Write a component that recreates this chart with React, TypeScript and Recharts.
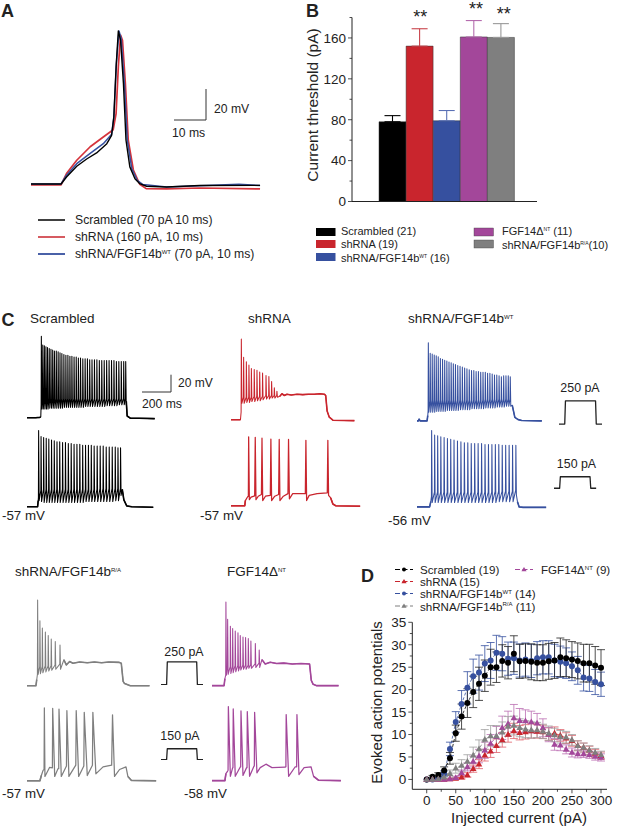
import { BarChart, Bar, ComposedChart, ErrorBar, Line, LineChart, XAxis, YAxis } from "recharts";

type Pt = [number, number];
type Spike = [number, number, number, number]; // time, foot, peak, trough

const FONT = "'Liberation Sans', Arial, sans-serif";
const INK = "#222";
const BLACK = "#000000";
const RED = "#c9252d";
const BLUE = "#36509f";
const GREY = "#7f7f7f";
const PURPLE = "#a3479a";

// panel A, single action potentials (ms, mV)
const apScrambled: Pt[] = [[0,-57],[9.4,-57],[11.1,-52.5],[14.3,-45.6],[17.4,-40.9],[20.5,-37],[23.7,-31],[25.2,-25.6],[25.9,-13.8],[26.6,18.5],[27.3,41.7],[28,35.7],[28.9,7.7],[29.7,-28.8],[30.9,-46],[32.5,-53.6],[34,-56.8],[36.1,-58.5],[42.4,-59],[52.8,-58],[71.6,-57.9]];
const apShrna: Pt[] = [[0,-57.6],[9.4,-57.6],[11.1,-50.3],[14.3,-41.7],[18.5,-33],[22.6,-26.7],[25.7,-22],[26.6,-11.6],[27.3,18.5],[28,39],[28.6,35.7],[29.5,7.7],[30.4,-28.8],[32,-48],[34,-57.2],[36,-60],[42.4,-60.2],[52.8,-59.6],[71.6,-60.2]];
const apRescue: Pt[] = [[0,-57],[9.4,-57],[11.1,-51.4],[14.3,-43.9],[18.4,-37.4],[22.6,-31],[25.2,-25],[25.9,-13.8],[26.7,20.6],[27.5,41.7],[28.2,36.8],[29.2,7.7],[30.1,-28.8],[31.5,-47],[33.2,-54.6],[35,-57.4],[42.4,-59],[65,-57.2],[71.6,-58]];

// panel B
const thresholdGroups = ["Scrambled", "shRNA", "shRNA/FGF14bWT", "FGF14dNT", "shRNA/FGF14bRA"];
const thresholdValues = [78, 152, 79, 161, 160.5];
const thresholdErrors = [6, 17, 10, 16, 13.5];
const thresholdColors = [BLACK, RED, BLUE, PURPLE, GREY];
const thresholdErrorColors = [BLACK, "#c9444b", "#5a70b5", "#b56cae", "#999999"];
const thresholdTicks = [0, 20, 40, 60, 80, 100, 120, 140, 160, 180];

// panel C, firing traces: time in ms from the start of the sweep, voltage in mV
const scrambledHighHead: Pt[] = [[0,-57],[60,-57],[90,-56.5],[96,-56]];
const scrambledHighSpikes: Spike[] = [
  [100,-42,37,-47],[110,-36,27,-47],[121,-35,26,-47],[132,-35,25,-47],[143,-35,24,-47],[155,-35,23,-46],[167,-35,22,-46],[179,-35,21,-46],
  [191,-35,20,-46],[204,-35,20,-46],[217,-35,19,-46],[230,-35,18,-46],[243,-35,17,-46],[257,-35,16,-45],[271,-35,15,-45],[285,-35,15,-45],
  [299,-35,14,-45],[313,-35,14,-45],[328,-35,13,-45],[343,-35,13,-45],[358,-35,12,-45],[373,-35,12,-45],[389,-35,11,-45],[405,-35,11,-44],
  [421,-35,11,-44],[437,-35,10,-44],[453,-35,10,-44],[470,-35,10,-44],[487,-35,10,-44],[504,-35,9,-44],[521,-35,9,-44],[538,-35,9,-44],
  [555,-35,9,-43],[572,-35,9,-43],[589,-35,9,-43],[606,-35,9,-43],[623,-35,8,-43],[640,-35,8,-42],[657,-35,8,-42],[674,-35,8,-42],[688,-35,8,-42],
];
const scrambledHighTail: Pt[] = [[692,-38],[698,-55],[720,-57.5],[780,-57.6],[890,-58]];

const scrambledLowHead: Pt[] = [[0,-57],[74,-57],[78,-50]];
const scrambledLowSpikes: Spike[] = [
  [81,-46,31,-50],[98,-38,24,-51],[116,-37,23,-52],[134,-37,22,-52],[152,-37,21,-52],[171,-37,20,-52],[190,-37,19,-52],[209,-37,18,-52],
  [228,-37,18,-52],[248,-37,17,-52],[268,-37,17,-52],[288,-37,16,-52],[308,-37,16,-52],[328,-37,15,-52],[348,-37,15,-52],[368,-37,15,-52],
  [388,-37,14,-52],[408,-37,14,-51],[428,-37,14,-51],[448,-37,14,-51],[468,-37,13,-51],[489,-37,13,-51],[510,-36,13,-51],[531,-36,13,-51],
  [552,-36,12,-51],[573,-36,12,-51],[594,-36,12,-51],[615,-36,12,-50],[634,-36,11,-50],[652,-36,11,-44],
];
const scrambledLowTail: Pt[] = [[664,-37],[675,-49],[695,-56],[730,-57],[880,-57.5]];

const shrnaHighHead: Pt[] = [[0,-57],[66,-57]];
const shrnaHighSpikes: Spike[] = [
  [72,-48,36,-38],[88,-31,15,-38],[107,-31,10,-37],[125,-31,6,-37],[142,-31,2,-36],[162,-30,1,-36],[181,-30,0,-35],[200,-30,-2,-35],
  [220,-30,-3,-34],[244,-29,-6,-33],[264,-29,-7,-33],[283,-29,-13,-32],[302,-29,-20,-32],[320,-29,-24,-31],
];
const shrnaHighTail: Pt[] = [[340,-30],[355,-27],[372,-29],[390,-27.5],[420,-28.5],[460,-27.5],[500,-28],[540,-27.5],[580,-27.5],[620,-27],[650,-27.5],[660,-29],[670,-47],[685,-54],[710,-57.5],[860,-58]];

const shrnaLow: Pt[] = [
  [0,-57],[96,-57],[100,-51],[116,-46.6],[121,-46],[123,22.5],[128,-50],[140,-47],[165,-45.5],[169,22],[174,-50],[190,-46],[212,-44],
  [216,21],[221,-51],[240,-46],[274,-45],[278,20],[283,-51],[305,-46],[332,-44],[336,19.5],[341,-51],[365,-46],[397,-43],[401,19.5],
  [407,-49],[430,-43],[470,-43],[518,-43],[522,18.5],[527,-51],[545,-45],[600,-43],[671,-42],[675,18.5],[680,-45],[695,-48],[710,-55],[730,-57],[900,-57.5],
];

const rescueHighHead: Pt[] = [[0,-56],[10,-56],[15,-54],[22,-56],[70,-56],[75,-50]];
const rescueHighSpikes: Spike[] = [
  [79,-44,34,-46],[92,-33,22,-46],[106,-32,21,-46],[120,-32,20,-46],[134,-32,19,-45],[148,-32,18,-45],[163,-32,16,-45],[178,-32,15,-45],
  [193,-32,14,-45],[208,-32,13,-44],[223,-32,12,-44],[238,-32,11,-44],[253,-32,10,-44],[268,-32,9,-44],[284,-32,8,-44],[300,-32,7,-43],
  [316,-32,6,-43],[332,-32,5,-43],[348,-32,4,-43],[364,-32,3,-43],[380,-32,2,-42],[396,-32,2,-42],[412,-32,1,-42],[428,-32,1,-42],
  [444,-32,0,-42],[460,-32,0,-42],[476,-31,0,-41],[492,-31,-1,-41],[508,-31,-1,-41],[524,-31,-2,-41],[540,-31,-3,-41],[556,-31,-3,-40],
  [572,-31,-4,-40],[588,-31,-5,-40],[604,-31,-4,-40],[620,-31,-4,-39],[636,-31,-4,-39],[650,-31,-5,-39],
];
const rescueHighTail: Pt[] = [[664,-38],[682,-52],[705,-54.5],[730,-55.5],[870,-56]];

const rescueLowHead: Pt[] = [[0,-56],[88,-56],[96,-50]];
const rescueLowSpikes: Spike[] = [
  [102,-44,32,-51],[123,-39,27,-51],[144,-39,26,-51],[166,-39,25,-51],[189,-39,24,-51],[212,-39,23,-51],[235,-39,22,-51],[258,-39,21,-51],
  [282,-39,20,-51],[306,-39,19,-51],[330,-39,18,-51],[354,-39,18,-51],[378,-39,17,-51],[402,-39,17,-51],[426,-39,17,-51],[450,-39,17,-51],
  [474,-39,16,-51],[498,-39,16,-51],[522,-39,16,-51],[546,-38,16,-51],[570,-38,16,-50],[594,-38,15,-50],[618,-38,15,-50],[642,-38,15,-50],
  [666,-38,15,-50],[689,-37,15,-42],
];
const rescueLowTail: Pt[] = [[700,-50],[712,-56],[740,-56.5],[900,-56.5]];

const mutantHighHead: Pt[] = [[0,-57],[62,-57],[68,-50]];
const mutantHighSpikes: Spike[] = [
  [74,-44,42,-44],[90,-35,18,-43],[107,-35,9.5,-42],[128,-34,5,-41],[148,-34,1,-40],[169,-34,-3,-39],[197,-33,-6,-38],[230,-32,-10,-38],
];
const mutantHighTail: Pt[] = [[257,-27],[274,-33],[297,-29],[320,-31],[367,-29.5],[420,-30.5],[470,-29.5],[520,-30.5],[570,-29.5],[640,-30],[657,-31],[670,-52],[680,-54.5],[720,-57],[854,-57]];

const mutantLow: Pt[] = [
  [0,-57],[90,-57],[100,-51],[112,-45],[119,-44],[121,27],[125,-52],[157,-41.6],[177,-42],[179,26.5],[193,-52],[216,-43],[221,-43],[223,25.7],
  [239,-52],[275,-40],[278,23.8],[292,-52],[340,-39],[343,23.8],[360,-52],[396,-40],[399,22],[420,-51],[456,-39],[459,22],[480,-49],[530,-41],
  [590,-39],[596,19],[610,-52],[645,-44],[690,-41],[703,-52],[727,-56.5],[900,-57],
];

const deltaHighHead: Pt[] = [[0,-58],[84,-58],[90,-50]];
const deltaHighSpikes: Spike[] = [
  [97,-46,38.5,-46],[109,-36,18.5,-45],[128,-36,10.5,-44],[144,-36,8,-43],[162,-35,5,-42],[181,-35,3,-41],[197,-35,-0.3,-40],[216,-34.5,-2,-39],
  [234,-34.5,-2.6,-39],[253,-34.5,-3.8,-38],[271,-34,-6.5,-38],[302,-33,-9.5,-37],[329,-32,-17,-37],
];
const deltaHighTail: Pt[] = [[348,-28],[371,-33],[406,-31],[450,-32.5],[500,-32],[560,-33],[620,-32.5],[680,-33],[692,-52],[705,-56.5],[730,-58],[882,-58]];

const deltaLow: Pt[] = [
  [0,-58],[90,-58],[97,-50],[109,-47],[112,-46],[114,27.4],[128,-53],[144,-43],[146,-43],[148,24.7],[162,-53],[198,-42],[200,-42],[202,22.4],
  [216,-52],[241,-43],[244,-43],[246,21.6],[262,-53],[293,-41],[295,-41],[297,20.8],[313,-49],[336,-43],[376,-39],[418,-43],[510,-42.5],
  [515,-42],[517,18.2],[534,-53],[580,-42],[590,-42],[592,18.2],[606,-51],[642,-43],[690,-42],[708,-53],[742,-57.5],[898,-58],
];

// stimulus steps (ms, pA)
const stepHigh: Pt[] = [[0,0],[40,0],[45,250],[255,250],[260,0],[300,0]];
const stepLow: Pt[] = [[0,0],[40,0],[45,150],[255,150],[260,0],[300,0]];

// panel D
const injected = [0,10,20,30,40,50,60,70,80,90,100,110,120,130,140,150,160,170,180,190,200,210,220,230,240,250,260,270,280,290,300];
const scrambledAp = [0,0.6,1,2,4.7,10.3,14,17,19.5,21.3,23.1,25,25,26.4,26,28,26.3,26.4,26.2,26,26,26.3,26.5,27.2,27,26.7,26.4,25.9,25.9,25.4,24.9];
const scrambledErr = [0,0.3,0.5,0.8,1.3,1.8,2.8,3.2,3.5,3.7,3.5,4,3.4,3.6,3.6,4,3.8,3.8,4,4,4,4,4,4.3,4.1,4,4,4.2,4.2,4.2,4];
const rescueAp = [0,0,0.3,1.3,6.8,12.8,16.8,20.4,23,23.8,25.8,26.5,28.2,28,26.9,27,26.5,26.7,26.4,27,27.2,27.2,26.5,26.2,25.9,25.2,24.3,22.7,22.5,21.7,21.2];
const rescueErr = [0,0,0.3,0.6,1.5,2.3,3,3.6,3.8,3.9,4,4,3.9,3.8,3.7,3.6,3.7,3.7,3.7,3.7,3.7,3.7,3.6,3.5,3.4,3.2,3.1,3,2.9,2.8,2.7];
const shrnaAp = [0,0,0,0,0.1,0.2,0.5,1,2.4,3.4,5.4,6.3,7.5,8.8,10,10.8,10.4,10.6,10.8,10.7,10.6,10.1,10.3,9.8,9.2,8.6,7.5,7.1,6.5,5.8,5.3];
const shrnaErr = [0,0,0,0,0.1,0.2,0.4,0.5,0.8,1,1.3,1.4,1.5,1.6,1.7,1.7,1.6,1.6,1.6,1.5,1.5,1.4,1.4,1.3,1.2,1.2,1.1,1,0.9,0.9,0.8];
const mutantAp = [0,0,0.1,0.5,1.3,2.5,3.1,4,5.4,6.8,8.9,9.7,9.7,10.5,11.8,12,11.5,11.2,11,11,10.7,10.3,9.9,9.5,9.4,8.8,7.5,7.1,6.5,6,5.5];
const mutantErr = [0,0,0.2,0.4,0.8,1.1,1.3,1.5,1.8,2,2.2,2.3,2.3,2.3,2.2,2.1,2,1.9,1.8,1.7,1.6,1.6,1.5,1.4,1.3,1.2,1.1,1,1,0.9,0.8];
const deltaAp = [0,0,0,0,0.1,0.4,1.5,2.8,4,5.2,6.5,8,9.5,11.5,12.4,13.7,13.1,13,12.8,12.5,11.5,10,7.8,7.6,6.7,6,5.7,5.7,5.5,5.1,4.9];
const deltaErr = [0,0,0,0,0.1,0.3,0.6,0.9,1.2,1.5,1.8,2,2.3,2.6,2.8,3,2.7,2.5,2.4,2.2,2,1.6,1.3,1.2,1,1,0.9,0.8,0.8,0.8,0.8];
const injectedTicks = [0, 25, 50, 75, 100, 125, 150, 175, 200, 225, 250, 275, 300];
const apTicks = [0, 2.5, 5, 7.5, 10, 12.5, 15, 17.5, 20, 22.5, 25, 27.5, 30, 32.5, 35];

const thresholdRows = thresholdGroups.map((group, i) => ({
  group,
  [`v${i}`]: thresholdValues[i],
  [`e${i}`]: [0, thresholdErrors[i]],
}));

const curveRows = injected.map((x, i) => ({
  x,
  scrambled: scrambledAp[i], scrambledE: scrambledErr[i],
  rescue: rescueAp[i], rescueE: rescueErr[i],
  shrna: shrnaAp[i], shrnaE: shrnaErr[i],
  mutant: mutantAp[i], mutantE: mutantErr[i],
  delta: deltaAp[i], deltaE: deltaErr[i],
}));

const toRows = (pts: Pt[]) => pts.map(([t, v]) => ({ t, v }));

// each spike adds its foot, peak and trough to the sweep
const train = (head: Pt[], spikes: Spike[], tail: Pt[]): Pt[] => [
  ...head,
  ...spikes.flatMap(([t, foot, peak, trough]): Pt[] => [[t - 1.5, foot], [t, peak], [t + 3.5, trough]]),
  ...tail,
];

function Traces({ left, top, width, height, xDomain, yDomain, series }: any) {
  return (
    <div style={{ position: "absolute", left, top }}>
      <LineChart width={width} height={height} margin={{ top: 0, right: 0, bottom: 0, left: 0 }}>
        <XAxis hide type="number" dataKey="t" domain={xDomain} allowDataOverflow />
        <YAxis hide type="number" domain={yDomain} allowDataOverflow />
        {series.map((s: any, i: number) => (
          <Line key={i} data={toRows(s.pts)} dataKey="v" stroke={s.color} strokeWidth={s.width ?? 1.2} dot={false} type="linear" isAnimationActive={false} strokeLinejoin="round" />
        ))}
      </LineChart>
    </div>
  );
}

// 200 ms = 28.7 px and 20 mV = 17.3 px in the sweeps of panel C
// thick: the resting and plateau stretches, which are heavier than the spikes
function Sweep({ left, base, rest, pts, color, thick = [], width = 1.05 }: any) {
  const msPx = 0.1435;
  const mvPx = 0.867;
  const top = base - (50 - rest) * mvPx;
  const series = [{ pts, color, width }, ...thick.map((p: Pt[]) => ({ pts: p, color, width: 1.6 }))];
  return (
    <Traces left={left} top={top} width={950 * msPx} height={125 * mvPx} xDomain={[0, 950]} yDomain={[-75, 50]} series={series} />
  );
}

function Step({ left, top, width, height, pts, max }: any) {
  return (
    <Traces left={left} top={top} width={width} height={height} xDomain={[0, 300]} yDomain={[-10, max + 10]}
      series={[{ pts, color: "#222", width: 1.3 }]} />
  );
}

const yTick = (majorEvery: number, size: number, minorLen: number, majorLen: number) => (props: any) => {
  const { x, y, payload } = props;
  const major = payload.value % majorEvery === 0;
  return (
    <g>
      <line x1={x - (major ? majorLen : minorLen)} x2={x} y1={y} y2={y} stroke={INK} strokeWidth={0.8} />
      {major && <text x={x - majorLen - 2} y={y + size * 0.36} textAnchor="end" fontSize={size} fontFamily={FONT} fill={INK}>{payload.value}</text>}
    </g>
  );
};

const xTick = (props: any) => {
  const { x, y, payload } = props;
  const major = payload.value % 50 === 0;
  return (
    <g>
      <line x1={x} x2={x} y1={y} y2={y + (major ? 4 : 2.5)} stroke={INK} strokeWidth={0.8} />
      {major && <text x={x} y={y + 16} textAnchor="middle" fontSize={13.5} fontFamily={FONT} fill={INK}>{payload.value}</text>}
    </g>
  );
};

const triangleDot = (color: string) => (props: any) => {
  const { cx, cy, index } = props;
  return <path key={index} d={`M${cx} ${cy - 3.5}L${cx + 3.3} ${cy + 2.3}L${cx - 3.3} ${cy + 2.3}Z`} fill={color} stroke="none" />;
};

function T({ x, y, size = 12, anchor, bold, rotate, children }: any) {
  return (
    <text x={x} y={y} fontSize={size} fontFamily={FONT} fontWeight={bold ? 700 : 400} textAnchor={anchor} fill={INK}
      transform={rotate ? `rotate(${rotate} ${x} ${y})` : undefined}>
      {children}
    </text>
  );
}

function Sup({ text, after, size = 6 }: any) {
  return (
    <>
      <tspan dy={-4.5} fontSize={size}>{text}</tspan>
      {after ? <tspan dy={4.5}>{after}</tspan> : null}
    </>
  );
}

function CurveKey({ x, y, color, triangle }: any) {
  return (
    <g>
      <line x1={x} x2={x + 18} y1={y} y2={y} stroke={color} strokeWidth={1} strokeDasharray="5 2.5" />
      {triangle
        ? <path d={`M${x + 9} ${y - 2.6}L${x + 11.6} ${y + 1.8}L${x + 6.4} ${y + 1.8}Z`} fill={color} />
        : <circle cx={x + 9} cy={y} r={2} fill={color} />}
    </g>
  );
}

function Annotations() {
  return (
    <svg width={617} height={828} style={{ position: "absolute", left: 0, top: 0, pointerEvents: "none" }}>
      <T x={1} y={17.3} size={18} bold>A</T>
      <T x={306} y={17.3} size={18} bold>B</T>
      <T x={1.5} y={326} size={18} bold>C</T>
      <T x={361} y={581.7} size={18} bold>D</T>

      <polyline points="174,120 206,120 206,89" fill="none" stroke="#333" strokeWidth={1} />
      <T x={214} y={113} size={12.2}>20 mV</T>
      <T x={172} y={137} size={12.2}>10 ms</T>

      <line x1={38} x2={65} y1={220} y2={220} stroke={BLACK} strokeWidth={1.5} />
      <line x1={38} x2={65} y1={237} y2={237} stroke={RED} strokeWidth={1.5} />
      <line x1={38} x2={65} y1={254} y2={254} stroke={BLUE} strokeWidth={1.8} />
      <T x={75} y={224} size={12.2}>Scrambled (70 pA 10 ms)</T>
      <T x={75} y={241} size={12.2}>shRNA (160 pA, 10 ms)</T>
      <T x={75} y={258} size={12.2}>shRNA/FGF14b<Sup text="WT" after=" (70 pA, 10 ms)" /></T>

      <T x={318} y={105} size={15.5} anchor="middle" rotate={-90}>Current threshold (pA)</T>
      <T x={420.3} y={23} size={18} anchor="middle">**</T>
      <T x={476} y={15} size={18} anchor="middle">**</T>
      <T x={503.7} y={20} size={18} anchor="middle">**</T>

      {[[228, BLACK], [240, RED], [253, BLUE]].map(([y, c]: any) => (
        <rect key={y} x={316} y={y} width={19.5} height={8} fill={c} />
      ))}
      {[[228, PURPLE], [240, GREY]].map(([y, c]: any) => (
        <rect key={y} x={474} y={y} width={19.5} height={8} fill={c} stroke="#444" strokeWidth={0.4} />
      ))}
      <T x={341} y={235} size={11}>Scrambled (21)</T>
      <T x={341} y={247.5} size={11}>shRNA (19)</T>
      <T x={341} y={262} size={11}>shRNA/FGF14b<Sup text="WT" size={5} after=" (16)" /></T>
      <T x={502} y={235} size={11}>FGF14Δ<Sup text="NT" size={5} after=" (11)" /></T>
      <T x={502} y={249} size={11}>shRNA/FGF14b<Sup text="R/A" size={5} after="(10)" /></T>

      <T x={30} y={323} size={13.5}>Scrambled</T>
      <T x={248} y={323} size={13.5}>shRNA</T>
      <T x={408} y={323} size={13.5}>shRNA/FGF14b<Sup text="WT" /></T>
      <polyline points="142,392 171,392 171,374.7" fill="none" stroke="#333" strokeWidth={1} />
      <T x={178} y={387} size={12}>20 mV</T>
      <T x={142} y={408} size={12.2}>200 ms</T>
      <T x={2} y={520} size={13.3}>-57 mV</T>
      <T x={200} y={520} size={13.3}>-57 mV</T>
      <T x={388} y={525} size={13.3}>-56 mV</T>
      <T x={580} y={392} size={12.4} anchor="middle">250 pA</T>
      <T x={576.5} y={467.5} size={12.4} anchor="middle">150 pA</T>

      <T x={15} y={576} size={13.5}>shRNA/FGF14b<Sup text="R/A" /></T>
      <T x={227} y={576} size={13.5}>FGF14Δ<Sup text="NT" /></T>
      <T x={184} y={655.5} size={12.4} anchor="middle">250 pA</T>
      <T x={180} y={739.5} size={12.4} anchor="middle">150 pA</T>
      <T x={2} y={797.5} size={13.3}>-57 mV</T>
      <T x={184} y={797.5} size={13.3}>-58 mV</T>

      <CurveKey x={395} y={569.5} color={BLACK} />
      <CurveKey x={395} y={581.5} color={RED} triangle />
      <CurveKey x={395} y={593.5} color={BLUE} />
      <CurveKey x={395} y={606} color={GREY} triangle />
      <CurveKey x={515} y={569.5} color={PURPLE} triangle />
      <T x={420} y={574} size={11.6}>Scrambled (19)</T>
      <T x={420} y={586} size={11.6}>shRNA (15)</T>
      <T x={420} y={598} size={11.6}>shRNA/FGF14b<Sup text="WT" after=" (14)" /></T>
      <T x={420} y={610.5} size={11.6}>shRNA/FGF14b<Sup text="R/A" after=" (11)" /></T>
      <T x={541} y={574} size={11.6}>FGF14Δ<Sup text="NT" after=" (9)" /></T>
      <T x={382} y={702.5} size={15} anchor="middle" rotate={-90}>Evoked action potentials</T>
      <T x={519} y={823} size={15} anchor="middle">Injected current (pA)</T>
    </svg>
  );
}

export default function App() {
  return (
    <div style={{ position: "absolute", left: 0, top: 0, width: 617, height: 828, background: "#fff", overflow: "hidden" }}>
      {/* A */}
      <Traces left={31} top={15} width={230} height={186} xDomain={[0, 71.9]} yDomain={[-68, 52]}
        series={[
          { pts: apShrna, color: "#d5333b", width: 1.7 },
          { pts: apRescue, color: BLUE, width: 1.5 },
          { pts: apScrambled, color: BLACK, width: 1.4 },
        ]} />

      {/* B */}
      <div style={{ position: "absolute", left: 300, top: 10 }}>
        <BarChart width={240} height={200} data={thresholdRows} barCategoryGap={0} margin={{ top: 7.5, right: 3, bottom: 7.5, left: 0 }}>
          <XAxis dataKey="group" height={1} tick={false} tickLine={false} padding={{ left: 27, right: 22.5 }} stroke={INK} />
          <YAxis width={52} domain={[0, 180]} ticks={thresholdTicks} interval={0} tickSize={0} tickMargin={0} tickLine={false}
            tick={yTick(40, 13.5, 2.5, 4)} stroke={INK} />
          {thresholdColors.map((c, i) => (
            <Bar key={i} dataKey={`v${i}`} stackId="t" fill={c} stroke="#333" strokeWidth={0.5} isAnimationActive={false}>
              <ErrorBar dataKey={`e${i}`} direction="y" width={8} stroke={thresholdErrorColors[i]} strokeWidth={1.1} isAnimationActive={false} />
            </Bar>
          ))}
        </BarChart>
      </div>

      {/* C */}
      <Sweep left={27} base={418} rest={-57} color={BLACK} pts={train(scrambledHighHead, scrambledHighSpikes, scrambledHighTail)} thick={[scrambledHighHead, scrambledHighTail]} />
      <Sweep left={27} base={506.7} rest={-57} color={BLACK} pts={train(scrambledLowHead, scrambledLowSpikes, scrambledLowTail)} thick={[scrambledLowHead, scrambledLowTail]} />
      <Sweep left={230.7} base={419.3} rest={-57} color={RED} pts={train(shrnaHighHead, shrnaHighSpikes, shrnaHighTail)} thick={[shrnaHighHead, shrnaHighTail]} />
      <Sweep left={230.7} base={505.7} rest={-57} color={RED} pts={shrnaLow} width={1.25} thick={[shrnaLow.slice(0, 3), shrnaLow.slice(-4)]} />
      <Sweep left={416.7} base={420.7} rest={-56} color={BLUE} pts={train(rescueHighHead, rescueHighSpikes, rescueHighTail)} thick={[rescueHighHead, rescueHighTail]} />
      <Sweep left={416.7} base={506.7} rest={-56} color={BLUE} pts={train(rescueLowHead, rescueLowSpikes, rescueLowTail)} thick={[rescueLowHead, rescueLowTail]} />
      <Sweep left={27.3} base={686} rest={-57} color={GREY} pts={train(mutantHighHead, mutantHighSpikes, mutantHighTail)} thick={[mutantHighHead, mutantHighTail]} />
      <Sweep left={27.3} base={780.7} rest={-57} color={GREY} pts={mutantLow} width={1.25} thick={[mutantLow.slice(0, 3), mutantLow.slice(-3)]} />
      <Sweep left={211.7} base={685.3} rest={-58} color={PURPLE} pts={train(deltaHighHead, deltaHighSpikes, deltaHighTail)} thick={[deltaHighHead, deltaHighTail]} />
      <Sweep left={211.7} base={780.7} rest={-58} color={PURPLE} pts={deltaLow} width={1.25} thick={[deltaLow.slice(0, 3), deltaLow.slice(-3)]} />

      <Step left={558.7} top={400} width={43} height={25} pts={stepHigh} max={250} />
      <Step left={554.3} top={476} width={42.4} height={13} pts={stepLow} max={150} />
      <Step left={160.7} top={660.7} width={42} height={24.6} pts={stepHigh} max={250} />
      <Step left={160.7} top={747.5} width={42} height={12.5} pts={stepLow} max={150} />

      {/* D */}
      <div style={{ position: "absolute", left: 370, top: 610 }}>
        <ComposedChart width={247} height={200} data={curveRows} margin={{ top: 12.3, right: 10, bottom: 19.7, left: 0 }}>
          <XAxis type="number" dataKey="x" height={1} domain={[-24.8, 310.3]} ticks={injectedTicks} interval={0} tickSize={0} tickMargin={0} tickLine={false} tick={xTick} allowDataOverflow stroke={INK} />
          <YAxis width={42.3} type="number" domain={[-2.2, 35]} ticks={apTicks} interval={0} tickSize={0} tickMargin={0} tickLine={false} tick={yTick(5, 13.5, 2.5, 4)} allowDataOverflow stroke={INK} />
          <Line dataKey="rescue" stroke={BLUE} strokeWidth={0.8} strokeDasharray="3 2" dot={{ r: 3, fill: BLUE, stroke: "none" }} isAnimationActive={false}>
            <ErrorBar dataKey="rescueE" direction="y" width={4} stroke={BLUE} strokeWidth={0.8} isAnimationActive={false} />
          </Line>
          <Line dataKey="scrambled" stroke={BLACK} strokeWidth={0.8} strokeDasharray="3 2" dot={{ r: 3, fill: BLACK, stroke: "none" }} isAnimationActive={false}>
            <ErrorBar dataKey="scrambledE" direction="y" width={4} stroke="#222" strokeWidth={0.8} isAnimationActive={false} />
          </Line>
          <Line dataKey="shrna" stroke={RED} strokeWidth={0.8} strokeDasharray="3 2" dot={triangleDot(RED)} isAnimationActive={false}>
            <ErrorBar dataKey="shrnaE" direction="y" width={4} stroke="#e0606a" strokeWidth={0.8} isAnimationActive={false} />
          </Line>
          <Line dataKey="delta" stroke={PURPLE} strokeWidth={0.8} strokeDasharray="3 2" dot={triangleDot(PURPLE)} isAnimationActive={false}>
            <ErrorBar dataKey="deltaE" direction="y" width={4} stroke="#bb6fb3" strokeWidth={0.8} isAnimationActive={false} />
          </Line>
          <Line dataKey="mutant" stroke={GREY} strokeWidth={0.8} strokeDasharray="3 2" dot={triangleDot(GREY)} isAnimationActive={false}>
            <ErrorBar dataKey="mutantE" direction="y" width={4} stroke="#a0a0a0" strokeWidth={0.8} isAnimationActive={false} />
          </Line>
        </ComposedChart>
      </div>

      <Annotations />
    </div>
  );
}
